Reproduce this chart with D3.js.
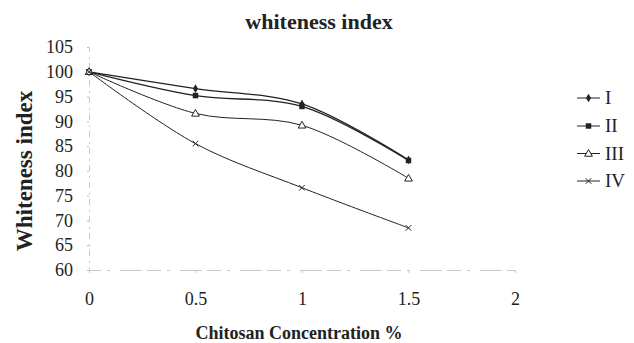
<!DOCTYPE html>
<html><head><meta charset="utf-8">
<script src="https://cdn.jsdelivr.net/npm/d3@7"></script>
<style>body{margin:0;background:#fff}svg{display:block}</style>
</head><body><svg id="c" width="634" height="343"></svg>
<script>
const xValues = [0, 0.5, 1, 1.5];
const seriesNames = ["I", "II", "III", "IV"];
const seriesI = [100, 96.6, 93.5, 82.2];
const seriesII = [100, 95.2, 93.0, 82.1];
const seriesIII = [100, 91.6, 89.2, 78.5];
const seriesIV = [100, 85.5, 76.6, 68.5];
const yTicks = [60, 65, 70, 75, 80, 85, 90, 95, 100, 105];
const xTicks = [0, 0.5, 1, 1.5, 2];
const allSeries = [seriesI, seriesII, seriesIII, seriesIV];
const markers = ["diamond", "square", "triangle", "cross"];
const FONT = "'Liberation Serif', 'Times New Roman', Times, 'DejaVu Serif', serif";

const svg = d3.select("#c").attr("font-family", FONT);
const x = d3.scaleLinear().domain([0, 2]).range([89, 515]);
const y = d3.scaleLinear().domain([60, 105]).range([270, 47]);

// titles
svg.append("text").attr("x", 319).attr("y", 29).attr("text-anchor", "middle").attr("font-family", FONT)
  .attr("font-weight", "bold").attr("font-size", "22px").attr("fill", "#222").text("whiteness index");
svg.append("text").attr("transform", "translate(32,171) rotate(-90)").attr("text-anchor", "middle").attr("font-family", FONT)
  .attr("font-weight", "bold").attr("font-size", "23px").attr("fill", "#222").text("Whiteness index");
svg.append("text").attr("x", 299).attr("y", 339).attr("text-anchor", "middle").attr("font-family", FONT)
  .attr("font-weight", "bold").attr("font-size", "18px").attr("fill", "#222").text("Chitosan Concentration %");

// axes (faint)
const ya = svg.append("g").attr("transform", "translate(89,0)")
  .call(d3.axisLeft(y).tickValues(yTicks).tickSize(2).tickPadding(14).tickFormat(d3.format("d")));
ya.attr("font-family", FONT).attr("font-size", 18);
ya.select(".domain").attr("stroke", "#c8c8c8").attr("stroke-dasharray", "6,4,2,5");
ya.selectAll(".tick line").attr("stroke", "#bbb");
ya.selectAll(".tick text").attr("fill", "#222");

const xa = svg.append("g").attr("transform", "translate(0,270)")
  .call(d3.axisBottom(x).tickValues(xTicks).tickSize(3).tickPadding(19).tickFormat(d => String(d)));
xa.attr("font-family", FONT).attr("font-size", 18);
xa.select(".domain").attr("stroke", "#c8c8c8").attr("stroke-dasharray", "14,6,3,10,22,5");
xa.selectAll(".tick line").attr("stroke", "#ccc");
xa.selectAll(".tick text").attr("fill", "#222");

function drawMarker(g, type, cx, cy) {
  if (type === "diamond") {
    g.append("path").attr("d", d3.symbol(d3.symbolDiamond, 22)()).attr("transform", `translate(${cx},${cy})`).attr("fill", "#222");
  } else if (type === "square") {
    g.append("path").attr("d", d3.symbol(d3.symbolSquare, 30)()).attr("transform", `translate(${cx},${cy})`).attr("fill", "#222");
  } else if (type === "triangle") {
    g.append("path").attr("d", d3.symbol(d3.symbolTriangle, 26)()).attr("transform", `translate(${cx},${cy + 0.5})`).attr("fill", "#fff").attr("stroke", "#222").attr("stroke-width", 1);
  } else {
    g.append("path").attr("d", d3.symbol(d3.symbolX, 22)()).attr("transform", `translate(${cx},${cy})`).attr("fill", "none").attr("stroke", "#222").attr("stroke-width", 1);
  }
}

const line = d3.line().x((d, i) => x(xValues[i])).y(d => y(d)).curve(d3.curveCatmullRom.alpha(0.5));
allSeries.forEach((s, k) => {
  const g = svg.append("g");
  g.append("path").attr("d", line(s)).attr("fill", "none").attr("stroke", "#222")
    .attr("stroke-width", k < 2 ? 1.3 : 1);
  s.forEach((v, i) => drawMarker(g, markers[k], x(xValues[i]), y(v)));
});

// legend
const legY = [98, 126, 153.5, 181];
seriesNames.forEach((n, k) => {
  const g = svg.append("g");
  g.append("line").attr("x1", 577).attr("x2", 600).attr("y1", legY[k]).attr("y2", legY[k]).attr("stroke", "#222").attr("stroke-width", 1);
  drawMarker(g, markers[k], 588.5, legY[k]);
  g.append("text").attr("x", 605).attr("y", legY[k] + 6).attr("font-family", FONT).attr("font-size", "19px").attr("fill", "#222").text(n);
});
</script></body></html>
